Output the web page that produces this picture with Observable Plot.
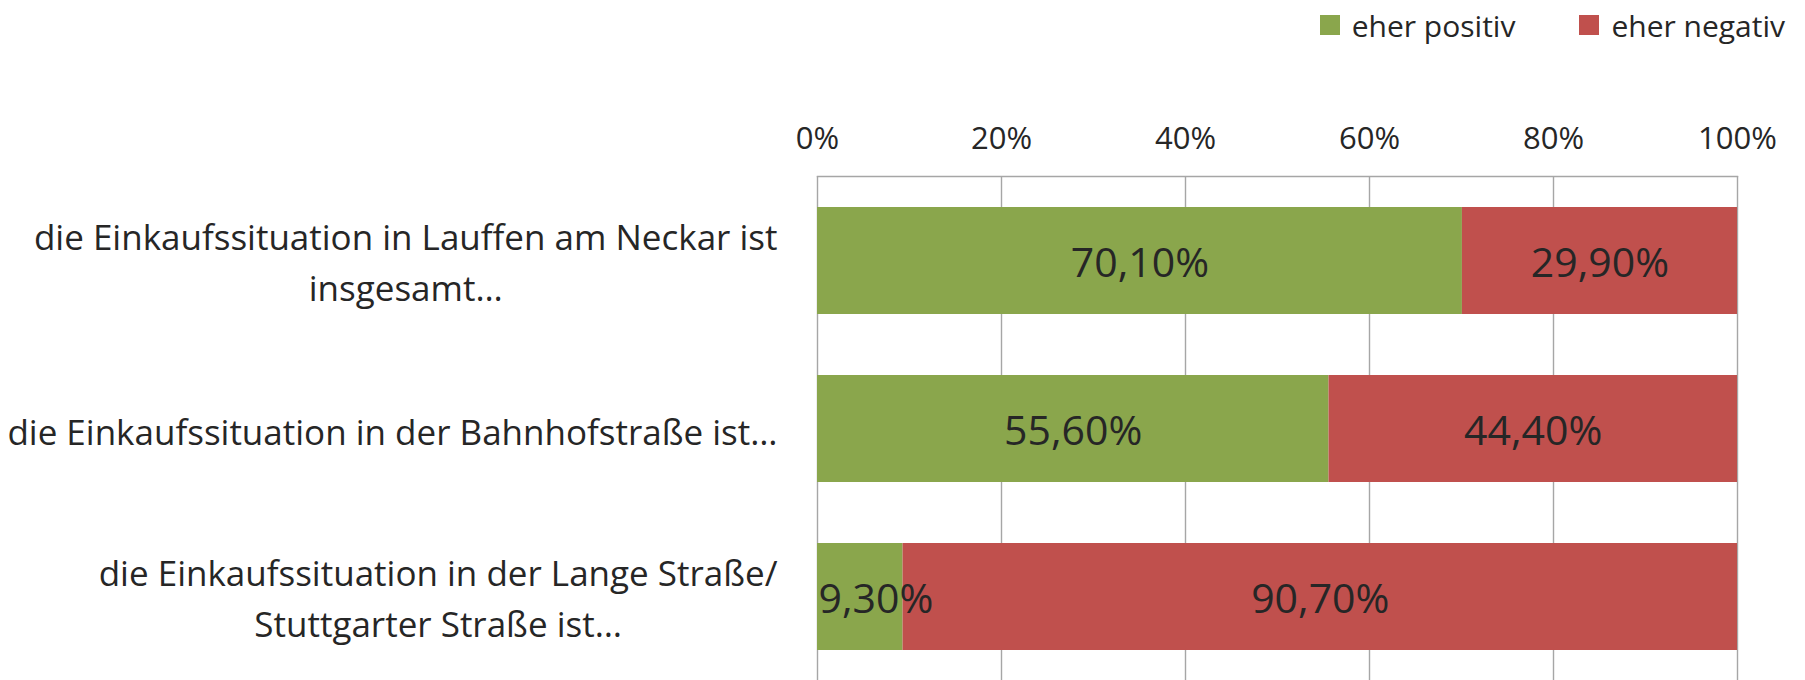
<!DOCTYPE html>
<html><head><meta charset="utf-8">
<script src="https://cdn.jsdelivr.net/npm/d3@7"></script>
<script src="https://cdn.jsdelivr.net/npm/@observablehq/plot@0.6"></script>
<style>
html,body{margin:0;padding:0;background:#fff;overflow:hidden;}
#legend{height:50px;display:flex;justify-content:flex-end;align-items:center;padding-right:20px;font-family:'Open Sans';font-size:30px;color:#262626;}
.item{display:flex;align-items:center;margin-left:64px;white-space:nowrap}
.sw{width:20px;height:20px;margin-right:12px}
</style></head><body>
<div id="legend"></div>
<div id="chart"></div>
<script>
const categories = [
  "die Einkaufssituation in Lauffen am Neckar ist\ninsgesamt…",
  "die Einkaufssituation in der Bahnhofstraße ist…",
  "die Einkaufssituation in der Lange Straße/\nStuttgarter Straße ist…"
];
const series = ["eher positiv", "eher negativ"];
const positiv = [70.1, 55.6, 9.3];
const negativ = [29.9, 44.4, 90.7];
const colors = ["#8aa64c", "#c0504d"];
const ticks = [0, 20, 40, 60, 80, 100];

const rows = [];
categories.forEach((c, i) => {
  rows.push({cat: c, series: series[0], value: positiv[i], x1: 0, x2: positiv[i]});
  rows.push({cat: c, series: series[1], value: negativ[i], x1: positiv[i], x2: positiv[i] + negativ[i]});
});
const fmt = v => v.toFixed(2).replace(".", ",") + "%";

const ctx = document.createElement("canvas").getContext("2d");
ctx.font = "35px 'Open Sans'";
const blockW = c => Math.max(...c.split("\n").map(l => ctx.measureText(l).width));

// legend
const leg = document.getElementById("legend");
series.forEach((s, i) => {
  const it = document.createElement("div"); it.className = "item";
  const sw = document.createElement("div"); sw.className = "sw"; sw.style.background = colors[i];
  const t = document.createElement("span"); t.textContent = s;
  it.appendChild(sw); it.appendChild(t); leg.appendChild(it);
});

const plot = Plot.plot({
  width: 1805, height: 630,
  marginTop: 126, marginBottom: 0, marginLeft: 817, marginRight: 68,
  style: {fontFamily: "'Open Sans'", color: "#262626", background: "#fff"},
  x: {domain: [0, 100], ticks: ticks},
  y: {domain: categories, range: [126, 631.5], paddingInner: 0.362, paddingOuter: 0.181, axis: null},
  color: {domain: series, range: colors},
  marks: [
    Plot.gridX(ticks, {stroke: "#a6a6a6", strokeOpacity: 1, strokeWidth: 1.4}),
    Plot.frame({anchor: "top", stroke: "#a6a6a6", strokeWidth: 1.4}),
    Plot.barX(rows, {x1: "x1", x2: "x2", y: "cat", fill: "series"}),
    Plot.text(rows.filter(d => d.value >= 15), {x: d => (d.x1 + d.x2) / 2, y: "cat", text: d => fmt(d.value), fontSize: 41, dy: 3, fill: "#262626"}),
    Plot.text(rows.filter(d => d.value < 15), {x: "x1", y: "cat", text: d => fmt(d.value), fontSize: 41, dy: 3, dx: 1, textAnchor: "start", fill: "#262626"}),
    ...categories.map(c => Plot.text([c], {x: () => 0, y: d => d, text: d => d, fontSize: 35, lineHeight: 1.46, textAnchor: "middle", dy: c.includes("\n") ? -2 : 0, dx: -(40 + blockW(c) / 2), fill: "#262626"})),
    Plot.axisX(ticks, {anchor: "top", tickSize: 0, tickPadding: 28, fontSize: 31, tickFormat: d => d + "%"})
  ]
});
document.getElementById("chart").appendChild(plot);
</script>
</body></html>
